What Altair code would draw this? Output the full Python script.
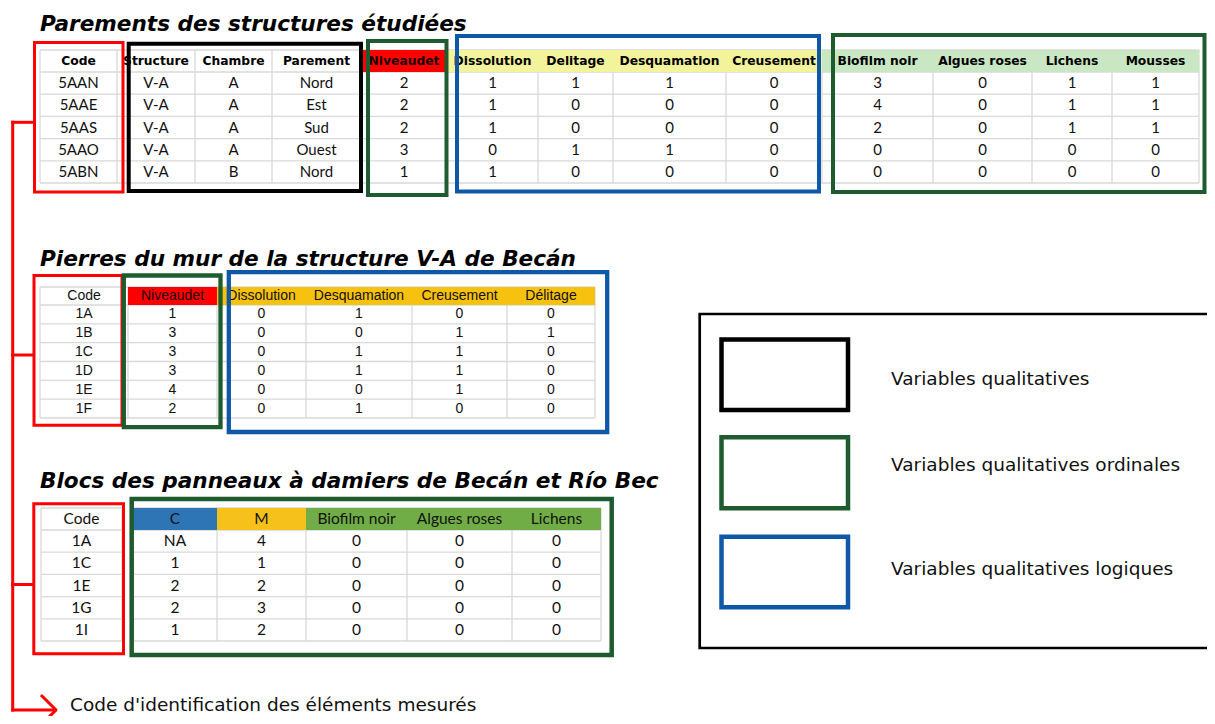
import altair as alt
import pandas as pd

# ---------------------------------------------------------------- data
T1_TITLE = "Parements des structures étudiées"
T1_HEADERS = ["Code", "Structure", "Chambre", "Parement", "Niveaudet",
              "Dissolution", "Delitage", "Desquamation", "Creusement",
              "Biofilm noir", "Algues roses", "Lichens", "Mousses"]
T1_CODE = ["5AAN", "5AAE", "5AAS", "5AAO", "5ABN"]
T1_STRUCTURE = ["V-A", "V-A", "V-A", "V-A", "V-A"]
T1_CHAMBRE = ["A", "A", "A", "A", "B"]
T1_PAREMENT = ["Nord", "Est", "Sud", "Ouest", "Nord"]
T1_NIVEAUDET = [2, 2, 2, 3, 1]
T1_DISSOLUTION = [1, 1, 1, 0, 1]
T1_DELITAGE = [1, 0, 0, 1, 0]
T1_DESQUAMATION = [1, 0, 0, 1, 0]
T1_CREUSEMENT = [0, 0, 0, 0, 0]
T1_BIOFILM = [3, 4, 2, 0, 0]
T1_ALGUES = [0, 0, 0, 0, 0]
T1_LICHENS = [1, 1, 1, 0, 0]
T1_MOUSSES = [1, 1, 1, 0, 0]

T2_TITLE = "Pierres du mur de la structure V-A de Becán"
T2_HEADERS = ["Code", "Niveaudet", "Dissolution", "Desquamation", "Creusement", "Délitage"]
T2_CODE = ["1A", "1B", "1C", "1D", "1E", "1F"]
T2_NIVEAUDET = [1, 3, 3, 3, 4, 2]
T2_DISSOLUTION = [0, 0, 0, 0, 0, 0]
T2_DESQUAMATION = [1, 0, 1, 1, 0, 1]
T2_CREUSEMENT = [0, 1, 1, 1, 1, 0]
T2_DELITAGE = [0, 1, 0, 0, 0, 0]

T3_TITLE = "Blocs des panneaux à damiers de Becán et Río Bec"
T3_HEADERS = ["Code", "C", "M", "Biofilm noir", "Algues roses", "Lichens"]
T3_CODE = ["1A", "1C", "1E", "1G", "1I"]
T3_C = ["NA", 1, 2, 2, 1]
T3_M = [4, 1, 2, 3, 2]
T3_BIOFILM = [0, 0, 0, 0, 0]
T3_ALGUES = [0, 0, 0, 0, 0]
T3_LICHENS = [0, 0, 0, 0, 0]

LEGEND_LABELS = ["Variables qualitatives",
                 "Variables qualitatives ordinales",
                 "Variables qualitatives logiques"]
FOOTER = "Code d'identification des éléments mesurés"

# ---------------------------------------------------------------- layout / style
# drawing coordinates are page pixels; the plot area covers the page minus its 8px margin
X0, X1, Y0, Y1 = 8, 1207, 8, 716
W, H = X1 - X0, Y1 - Y0

GRID = "#d9d9d9"
RED = "#ff0000"
DKGREEN = "#1e5c30"
BLUE = "#0f57a7"
BLACK = "#000000"
YELLOW = "#f3f39c"
LGREEN = "#c9e7c2"
ORANGE = "#f7c10f"
BLUE3 = "#2e75b6"
GOLD = "#f6c11b"
GREEN3 = "#70ad47"

T1_COLS = [40, 117, 195, 272, 361, 447, 538, 613, 726, 822, 933, 1032, 1112, 1199]
T1_HDR = (50, 72)
T1_BOTTOM = 183
T1_FILLS = [None] * 4 + [RED] + [YELLOW] * 4 + [LGREEN] * 4

T2_COLS = [40, 128, 217, 306, 412, 507, 595]
T2_HDR = (287, 305)
T2_BOTTOM = 418
T2_FILLS = [None, RED] + [ORANGE] * 4

T3_COLS_A = [41, 122]
T3_COLS_B = [133, 217, 306, 407, 512, 601]
T3_HDR = (508, 530)
T3_BOTTOM = 641
T3_FILLS = [None, BLUE3, GOLD, GREEN3, GREEN3, GREEN3]

grid_rows, fill_rows = [], []
t1h, t1d, t2t, t3t = [], [], [], []


def build(cols, hdr, bottom, n, fills):
    top, hb = hdr
    step = (bottom - hb) / n
    edges = [top, hb] + [hb + step * (i + 1) for i in range(n)]
    for y in edges:
        grid_rows.append(dict(x=cols[0], x2=cols[-1], y=y, y2=y))
    for x in cols:
        grid_rows.append(dict(x=x, x2=x, y=top, y2=bottom))
    for i, f in enumerate(fills):
        if f:
            fill_rows.append(dict(x=cols[i], x2=cols[i + 1], y=top, y2=hb, fill=f))
    centers = [(cols[i] + cols[i + 1]) / 2 for i in range(len(cols) - 1)]
    hcy = (top + hb) / 2
    rcy = [hb + step * (i + 0.5) for i in range(n)]
    return centers, hcy, rcy


def add_cells(store_h, store_d, centers, hcy, rcy, headers, columns, hcolors=None):
    for j, (cx, h) in enumerate(zip(centers, headers)):
        store_h.append(dict(x=cx, y=hcy, text=h,
                            color=(hcolors[j] if hcolors else "#111111")))
        for i, v in enumerate(columns[j]):
            store_d.append(dict(x=cx, y=rcy[i], text=str(v), color="#111111"))


# table 1
c1, h1, r1 = build(T1_COLS, T1_HDR, T1_BOTTOM, len(T1_CODE), T1_FILLS)
add_cells(t1h, t1d, c1, h1, r1, T1_HEADERS,
          [T1_CODE, T1_STRUCTURE, T1_CHAMBRE, T1_PAREMENT, T1_NIVEAUDET,
           T1_DISSOLUTION, T1_DELITAGE, T1_DESQUAMATION, T1_CREUSEMENT,
           T1_BIOFILM, T1_ALGUES, T1_LICHENS, T1_MOUSSES],
          ["#000000"] * 4 + ["#1a0000"] + ["#000000"] * 8)

# table 2
c2, h2, r2 = build(T2_COLS, T2_HDR, T2_BOTTOM, len(T2_CODE), T2_FILLS)
add_cells(t2t, t2t, c2, h2, r2, T2_HEADERS,
          [T2_CODE, T2_NIVEAUDET, T2_DISSOLUTION, T2_DESQUAMATION,
           T2_CREUSEMENT, T2_DELITAGE],
          ["#111111", "#220000"] + ["#111111"] * 4)

# table 3 (code column separated from the rest)
c3a, h3, r3 = build(T3_COLS_A, T3_HDR, T3_BOTTOM, len(T3_CODE), T3_FILLS[:1])
c3b, _, _ = build(T3_COLS_B, T3_HDR, T3_BOTTOM, len(T3_CODE), T3_FILLS[1:])
add_cells(t3t, t3t, c3a + c3b, h3, r3, T3_HEADERS,
          [T3_CODE, T3_C, T3_M, T3_BIOFILM, T3_ALGUES, T3_LICHENS])

titles = pd.DataFrame(dict(x=[40, 40, 40], y=[31, 266, 488],
                           text=[T1_TITLE, T2_TITLE, T3_TITLE]))

LEG_RECT_X = (721.5, 848)
LEG_RECT_Y = [(339.5, 410), (437.2, 508.3), (536.7, 607.2)]
LEG_COLORS = [BLACK, DKGREEN, BLUE]
legend_text = pd.DataFrame(dict(x=[891, 891, 891, 70],
                                y=[385, 470.7, 575, 711],
                                text=LEGEND_LABELS + [FOOTER]))

boxes = [
    # table 1
    (34.5, 42.5, 123, 192, RED, 3),
    (128.7, 43.7, 361, 191, BLACK, 4),
    (368, 41, 446.5, 195, DKGREEN, 4),
    (457, 36, 819, 191.5, BLUE, 4),
    (833, 35, 1204.5, 192, DKGREEN, 4),
    # table 2
    (34, 275.5, 122, 425.2, RED, 3),
    (123.8, 275.5, 220.5, 427.2, DKGREEN, 4.3),
    (228.8, 272.2, 607.2, 432, BLUE, 4.3),
    # table 3
    (33.8, 503.8, 123.5, 653.8, RED, 3),
    (131.7, 499, 611.7, 655, DKGREEN, 4.5),
    # legend frame (runs off the right edge)
    (699.7, 314, 1240, 648, BLACK, 2.7),
]
for (ya, yb), col in zip(LEG_RECT_Y, LEG_COLORS):
    boxes.append((LEG_RECT_X[0], ya, LEG_RECT_X[1], yb, col, 4.5))
boxes_df = pd.DataFrame(boxes, columns=["x", "y", "x2", "y2", "color", "sw"])
boxes_df["order"] = range(len(boxes_df))

LX = 12.7
BOT = 710
connector = pd.DataFrame([
    dict(x=LX, y=122.3, x2=LX, y2=BOT),
    dict(x=LX, y=122.3, x2=33, y2=122.3),
    dict(x=LX, y=355, x2=33, y2=355),
    dict(x=LX, y=584.5, x2=33, y2=584.5),
    dict(x=LX, y=BOT, x2=55, y2=BOT),
    dict(x=42, y=BOT - 14, x2=55.5, y2=BOT - 0.5),
    dict(x=55.5, y=BOT + 0.5, x2=44, y2=BOT + 12),
])

# ---------------------------------------------------------------- chart
xs = alt.Scale(domain=[X0, X1], nice=False, zero=False)
ys = alt.Scale(domain=[Y0, Y1], nice=False, zero=False, reverse=True)


def X(f="x"):
    return alt.X(f"{f}:Q", scale=xs, axis=None)


def Y(f="y"):
    return alt.Y(f"{f}:Q", scale=ys, axis=None)


grid = alt.Chart(pd.DataFrame(grid_rows)).mark_rule(color=GRID, strokeWidth=1.3).encode(
    x=X(), x2="x2:Q", y=Y(), y2="y2:Q")

fills = alt.Chart(pd.DataFrame(fill_rows)).mark_rect().encode(
    x=X(), x2="x2:Q", y=Y(), y2="y2:Q", color=alt.Color("fill:N", scale=None))


def text_layer(rows, **kw):
    return alt.Chart(pd.DataFrame(rows)).mark_text(baseline="middle", **kw).encode(
        x=X(), y=Y(), text="text:N", color=alt.Color("color:N", scale=None))


t1h_layer = text_layer(t1h, font="DejaVu Sans", fontWeight="bold", fontSize=12.3)
t1d_layer = text_layer(t1d, font="Lato", fontSize=15)
t2_layer = text_layer(t2t, font="Liberation Sans", fontSize=14)
t3_layer = text_layer(t3t, font="Lato", fontSize=15.5)

title_layer = alt.Chart(titles).mark_text(
    align="left", baseline="alphabetic", font="DejaVu Sans", fontWeight="bold",
    fontStyle="italic", fontSize=21.6, color="#000000").encode(x=X(), y=Y(), text="text:N")

legend_layer = alt.Chart(legend_text).mark_text(
    align="left", baseline="alphabetic", font="DejaVu Sans", fontSize=18.5,
    color="#111111").encode(x=X(), y=Y(), text="text:N")

box_layer = alt.Chart(boxes_df).mark_rect(fillOpacity=0).encode(
    x=X(), x2="x2:Q", y=Y(), y2="y2:Q",
    stroke=alt.Stroke("color:N", scale=None),
    strokeWidth=alt.StrokeWidth("sw:Q", scale=None),
    order="order:Q")

conn_layer = alt.Chart(connector).mark_rule(color=RED, strokeWidth=3, strokeCap="square").encode(
    x=X(), x2="x2:Q", y=Y(), y2="y2:Q")

chart = alt.layer(
    grid, fills, t1h_layer, t1d_layer, t2_layer, t3_layer,
    box_layer, conn_layer, title_layer, legend_layer
).properties(
    width=W, height=H, padding=0,
    autosize=alt.AutoSizeParams(type="none"),
    background="#ffffff",
).configure_view(stroke=None)

chart.save("out.html", embed_options={"renderer": "svg", "actions": False})
